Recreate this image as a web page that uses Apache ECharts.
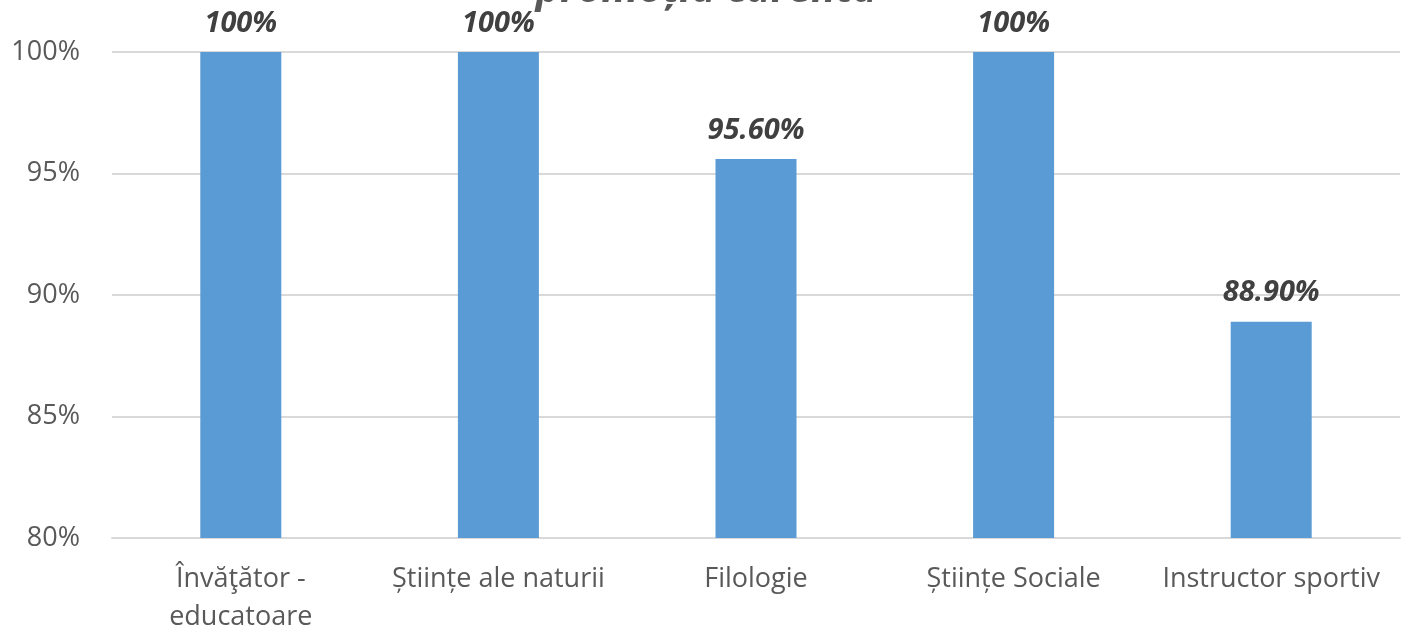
<!DOCTYPE html>
<html>
<head>
<meta charset="utf-8">
<script src="https://cdn.jsdelivr.net/npm/echarts@6/dist/echarts.min.js"></script>
<style>html,body{margin:0;padding:0;background:#fff;}#c{width:1413px;height:633px;}</style>
</head>
<body>
<div id="c"></div>
<script>
const titleText = 'promoția curentă';
const categories = ['Învăţător -\neducatoare', 'Științe ale naturii', 'Filologie', 'Științe Sociale', 'Instructor sportiv'];
const values = [100, 100, 95.6, 100, 88.9];
const valueLabels = ['100%', '100%', '95.60%', '100%', '88.90%'];
const yTicks = [80, 85, 90, 95, 100];

const chart = echarts.init(document.getElementById('c'));
chart.setOption({
  animation: false,
  backgroundColor: '#ffffff',
  title: {
    text: titleText,
    left: 'center',
    top: -35,
    textStyle: { fontFamily: 'Open Sans', fontSize: 41, fontWeight: 'bold', fontStyle: 'italic', color: '#595959' }
  },
  grid: { left: 112, right: 13, top: 52, bottom: 95, containLabel: false, outerBoundsMode: 'none' },
  xAxis: {
    type: 'category',
    data: categories,
    axisLine: { show: true, lineStyle: { color: '#d9d9d9', width: 2 } },
    axisTick: { show: false },
    axisLabel: { fontFamily: 'Open Sans', fontSize: 27, color: '#595959', margin: 22, lineHeight: 38, interval: 0 }
  },
  yAxis: {
    type: 'value',
    min: yTicks[0],
    max: yTicks[yTicks.length - 1],
    interval: 5,
    axisLine: { show: false },
    axisTick: { show: false },
    splitLine: { lineStyle: { color: '#d9d9d9', width: 2 } },
    axisLabel: { fontFamily: 'Open Sans', fontSize: 27, color: '#595959', margin: 32, formatter: '{value}%' }
  },
  series: [{
    type: 'bar',
    data: values,
    barWidth: 81,
    itemStyle: { color: '#5b9bd5' },
    label: {
      show: true,
      position: 'top',
      distance: 14,
      formatter: p => valueLabels[p.dataIndex],
      fontFamily: 'Open Sans',
      fontSize: 29,
      fontWeight: 'bold',
      fontStyle: 'italic',
      color: '#404040'
    }
  }]
});
</script>
</body>
</html>
